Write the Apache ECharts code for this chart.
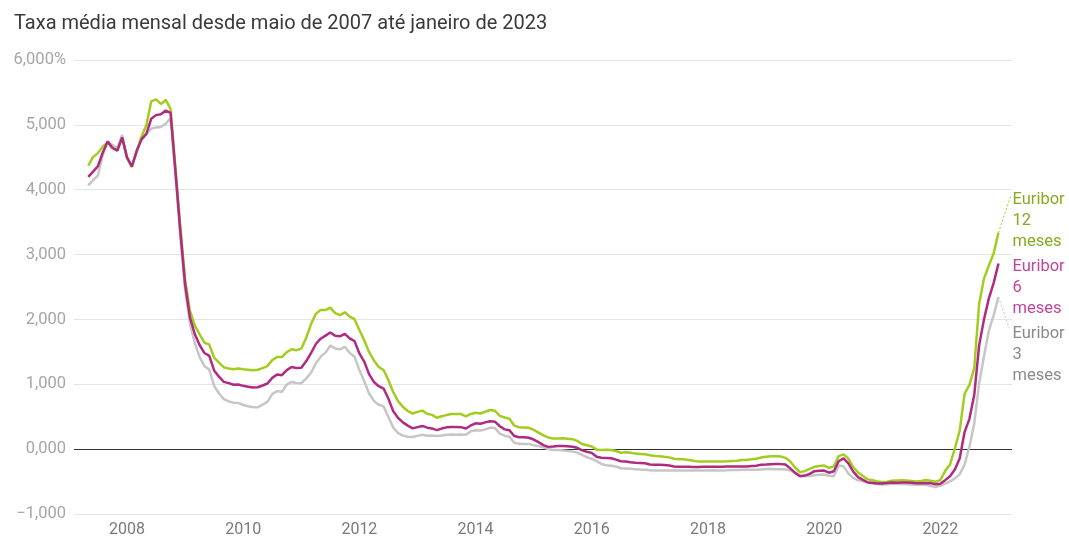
<!DOCTYPE html>
<html>
<head>
<meta charset="utf-8">
<title>Euribor</title>
<script src="https://cdn.jsdelivr.net/npm/echarts@6/dist/echarts.min.js"></script>
<style>
    html, body { margin: 0; padding: 0; background: #fff; }
    #main { width: 1069px; height: 539px; }
</style>
</head>
<body>
<div id="main"></div>
<script>
/* dados: média mensal, maio 2007 - janeiro 2023 */
var startYear = 2007, startMonth = 5;
var xTicks = [2008, 2010, 2012, 2014, 2016, 2018, 2020, 2022];
var yTicks = [-1, 0, 1, 2, 3, 4, 5, 6];
var seriesNames = ['Euribor 3 meses', 'Euribor 12 meses', 'Euribor 6 meses'];
var labelNames = ['Euribor\n3\nmeses', 'Euribor\n12\nmeses', 'Euribor\n6\nmeses'];

var eur12 = [
    4.373, 4.505, 4.564, 4.666, 4.725, 4.647, 4.607, 4.793,
    4.498, 4.349, 4.590, 4.820, 4.994, 5.361, 5.393, 5.323, 5.384, 5.248, 4.350, 3.452,
    2.622, 2.135, 1.909, 1.771, 1.644, 1.610, 1.412, 1.334, 1.261, 1.243, 1.231, 1.242,
    1.232, 1.225, 1.215, 1.225, 1.249, 1.281, 1.373, 1.421, 1.420, 1.495, 1.541, 1.526,
    1.550, 1.714, 1.924, 2.086, 2.147, 2.144, 2.183, 2.097, 2.067, 2.110, 2.044, 2.004,
    1.837, 1.678, 1.499, 1.368, 1.266, 1.219, 1.061, 0.877, 0.740, 0.650, 0.588, 0.549,
    0.575, 0.594, 0.545, 0.528, 0.484, 0.507, 0.525, 0.542, 0.543, 0.541, 0.506, 0.543,
    0.562, 0.549, 0.577, 0.604, 0.592, 0.513, 0.488, 0.469, 0.362, 0.338, 0.335, 0.329,
    0.298, 0.255, 0.212, 0.180, 0.165, 0.163, 0.167, 0.161, 0.154, 0.128, 0.079, 0.059,
    0.042, -0.008, -0.012, -0.010, -0.013, -0.028, -0.056, -0.048, -0.057, -0.069, -0.074, -0.080,
    -0.095, -0.106, -0.110, -0.119, -0.127, -0.149, -0.154, -0.156, -0.168, -0.180, -0.189, -0.190,
    -0.189, -0.191, -0.191, -0.190, -0.188, -0.181, -0.180, -0.169, -0.166, -0.154, -0.147, -0.129,
    -0.116, -0.108, -0.109, -0.112, -0.134, -0.190, -0.283, -0.356, -0.339, -0.304, -0.272, -0.261,
    -0.253, -0.288, -0.266, -0.108, -0.081, -0.147, -0.279, -0.359, -0.415, -0.466, -0.481, -0.499,
    -0.505, -0.501, -0.487, -0.484, -0.481, -0.484, -0.491, -0.498, -0.492, -0.477, -0.487, -0.502,
    -0.477, -0.335, -0.237, 0.013, 0.287, 0.852, 0.992, 1.249, 2.233, 2.629, 2.828, 3.018,
    3.337
];

var eur6 = [
    4.199, 4.278, 4.363, 4.574, 4.745, 4.643, 4.602, 4.807,
    4.498, 4.359, 4.596, 4.776, 4.860, 5.093, 5.150, 5.163, 5.221, 5.183, 4.293, 3.372,
    2.542, 2.033, 1.775, 1.606, 1.482, 1.438, 1.214, 1.117, 1.037, 1.018, 0.992, 0.996,
    0.976, 0.963, 0.950, 0.955, 0.981, 1.012, 1.099, 1.151, 1.140, 1.218, 1.266, 1.250,
    1.255, 1.354, 1.479, 1.621, 1.703, 1.750, 1.799, 1.747, 1.740, 1.776, 1.707, 1.666,
    1.475, 1.351, 1.157, 1.036, 0.970, 0.934, 0.778, 0.583, 0.480, 0.413, 0.363, 0.320,
    0.340, 0.358, 0.331, 0.320, 0.293, 0.317, 0.336, 0.341, 0.340, 0.339, 0.319, 0.365,
    0.398, 0.391, 0.413, 0.431, 0.423, 0.353, 0.305, 0.290, 0.202, 0.184, 0.183, 0.175,
    0.148, 0.108, 0.062, 0.035, 0.040, 0.050, 0.049, 0.044, 0.036, 0.020, -0.019, -0.040,
    -0.058, -0.118, -0.134, -0.136, -0.140, -0.162, -0.186, -0.191, -0.201, -0.209, -0.213, -0.217,
    -0.236, -0.241, -0.241, -0.246, -0.251, -0.267, -0.273, -0.272, -0.273, -0.274, -0.275, -0.271,
    -0.272, -0.272, -0.271, -0.270, -0.269, -0.268, -0.268, -0.267, -0.268, -0.259, -0.257, -0.239,
    -0.236, -0.232, -0.230, -0.231, -0.236, -0.297, -0.366, -0.417, -0.408, -0.381, -0.340, -0.335,
    -0.330, -0.363, -0.341, -0.186, -0.142, -0.219, -0.347, -0.432, -0.473, -0.514, -0.521, -0.528,
    -0.530, -0.522, -0.516, -0.517, -0.514, -0.513, -0.517, -0.526, -0.524, -0.522, -0.524, -0.542,
    -0.535, -0.478, -0.417, -0.313, -0.140, 0.263, 0.467, 0.837, 1.596, 1.997, 2.321, 2.560,
    2.862
];

var eur3 = [
    4.068, 4.149, 4.222, 4.539, 4.744, 4.690, 4.636, 4.845,
    4.483, 4.363, 4.599, 4.781, 4.860, 4.941, 4.961, 4.966, 5.018, 5.106, 4.239, 3.287,
    2.457, 1.937, 1.638, 1.420, 1.280, 1.227, 0.974, 0.861, 0.771, 0.735, 0.717, 0.712,
    0.681, 0.662, 0.645, 0.644, 0.686, 0.728, 0.848, 0.895, 0.882, 0.996, 1.036, 1.019,
    1.016, 1.088, 1.177, 1.321, 1.426, 1.488, 1.597, 1.553, 1.539, 1.578, 1.484, 1.426,
    1.221, 1.050, 0.858, 0.744, 0.685, 0.659, 0.497, 0.331, 0.246, 0.208, 0.192, 0.187,
    0.205, 0.223, 0.206, 0.211, 0.201, 0.210, 0.221, 0.226, 0.223, 0.226, 0.223, 0.274,
    0.292, 0.288, 0.305, 0.331, 0.325, 0.240, 0.207, 0.192, 0.097, 0.083, 0.081, 0.081,
    0.061, 0.048, 0.027, 0.003, -0.013, -0.014, -0.019, -0.028, -0.038, -0.054, -0.090, -0.126,
    -0.150, -0.184, -0.228, -0.249, -0.257, -0.268, -0.294, -0.298, -0.302, -0.309, -0.313, -0.316,
    -0.326, -0.329, -0.329, -0.330, -0.329, -0.330, -0.330, -0.329, -0.329, -0.330, -0.329, -0.328,
    -0.328, -0.327, -0.328, -0.328, -0.325, -0.321, -0.321, -0.319, -0.319, -0.318, -0.316, -0.312,
    -0.308, -0.308, -0.310, -0.310, -0.312, -0.329, -0.365, -0.408, -0.418, -0.413, -0.401, -0.395,
    -0.391, -0.409, -0.417, -0.253, -0.265, -0.376, -0.444, -0.481, -0.490, -0.509, -0.522, -0.538,
    -0.547, -0.541, -0.539, -0.538, -0.539, -0.543, -0.545, -0.548, -0.545, -0.550, -0.567, -0.583,
    -0.560, -0.532, -0.498, -0.450, -0.386, -0.239, 0.037, 0.395, 1.011, 1.428, 1.825, 2.063,
    2.345
];

var lineColors = ['#c6c6c6', '#a3cd1e', '#b02a80'];
var textColors = ['#8a8a8a', '#86aa1c', '#c2449c'];
var FONT = 'Roboto, "Noto Sans", sans-serif';

/* mês i -> ano decimal */
function toPairs(values) {
    var out = [];
    for (var i = 0; i < values.length; i++) {
        var m = startMonth - 1 + i;
        out.push([startYear + m / 12, values[i]]);
    }
    return out;
}

function fmtY(v) {
    var s = Math.abs(v).toFixed(3).replace('.', ',');
    if (v < 0) s = '\u2212' + s;
    if (v === 6) s += '%';
    return s;
}

var allValues = [eur3, eur12, eur6];
var labelOffsets = [[14, 58], [14, -12], [14, 24]];
/* pontas das linhas tracejadas até aos rótulos (px) */
var leaderEnds = [{ x: 1009, y: 328 }, { x: 1011, y: 195 }, null];

var ySeries = [];
for (var k = 0; k < allValues.length; k++) {
    var vals = allValues[k];
    var pairs = toPairs(vals);
    var last = pairs[pairs.length - 1];
    var s = {
        name: seriesNames[k],
        type: 'line',
        data: pairs,
        showSymbol: false,
        smooth: false,
        lineStyle: { color: lineColors[k], width: 2.5 },
        itemStyle: { color: lineColors[k] },
        z: 2 + k,
        endLabel: {
            show: true,
            formatter: labelNames[k],
            color: textColors[k],
            fontFamily: FONT,
            fontSize: 16.5,
            lineHeight: 21,
            distance: 0,
            offset: labelOffsets[k]
        }
    };
    if (leaderEnds[k]) {
        s.markLine = {
            silent: true,
            symbol: ['none', 'none'],
            label: { show: false },
            lineStyle: { color: lineColors[k], type: [2, 2], width: 1 },
            data: [[{ coord: [last[0], last[1]] }, leaderEnds[k]]]
        };
    }
    ySeries.push(s);
}

var myChart = echarts.init(document.getElementById('main'), null, { renderer: 'canvas' });
var option = {
    animation: false,
    backgroundColor: '#ffffff',
    title: {
        text: 'Taxa média mensal desde maio de 2007 até janeiro de 2023',
        left: 9,
        top: 9,
        textStyle: { fontFamily: FONT, fontSize: 20, fontWeight: 'normal', color: '#3a3a3a' }
    },
    grid: { left: 74, right: 57, top: 60, bottom: 25, containLabel: false },
    xAxis: {
        type: 'value',
        min: 2007.088,
        max: 2023.233,
        axisLine: { show: false },
        axisTick: { show: false },
        splitLine: { show: false },
        axisLabel: {
            customValues: xTicks,
            formatter: function (v) { return String(Math.round(v)); },
            color: '#7a7a7a',
            fontFamily: FONT,
            fontSize: 16,
            margin: 8
        }
    },
    yAxis: {
        type: 'value',
        min: yTicks[0],
        max: yTicks[yTicks.length - 1],
        interval: 1,
        axisLine: { show: false },
        axisTick: { show: false },
        axisLabel: {
            formatter: fmtY,
            color: '#a6a6a6',
            fontFamily: FONT,
            fontSize: 16.5,
            margin: 8
        },
        splitLine: {
            lineStyle: {
                color: ['#e4e4e4', '#333333', '#e4e4e4', '#e4e4e4', '#e4e4e4', '#e4e4e4', '#e4e4e4', '#e4e4e4'],
                width: 1
            }
        }
    },
    series: ySeries
};
myChart.setOption(option);
</script>
</body>
</html>
